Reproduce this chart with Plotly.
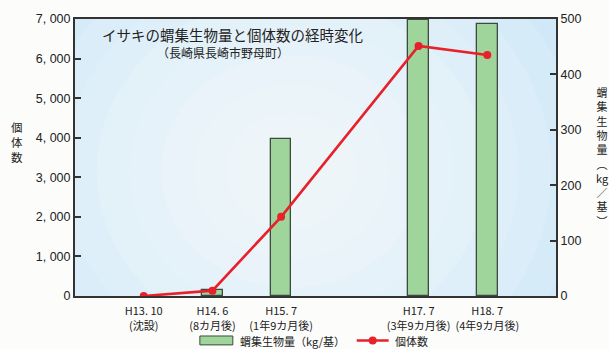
import plotly.graph_objects as go

# ---- data ----
x_pos = [0, 1, 2, 4, 5]
x_labels = ["H13. 10<br>(沈設)", "H14. 6<br>(8カ月後)", "H15. 7<br>(1年9カ月後)",
            "H17. 7<br>(3年9カ月後)", "H18. 7<br>(4年9カ月後)"]
biomass = [None, 10, 284, 498, 491]     # 蝟集生物量 (kg/基) right axis
count = [0, 135, 2000, 6320, 6090]      # 個体数 left axis
left_ticks = [0, 1000, 2000, 3000, 4000, 5000, 6000, 7000]
left_ticktext = ["0", "1, 000", "2, 000", "3, 000", "4, 000", "5, 000", "6, 000", "7, 000"]
right_ticks = [0, 100, 200, 300, 400, 500]
right_title_chars = ["蝟", "集", "生", "物", "量", "︵", "kg", "／", "基", "︶"]
left_title_chars = ["個", "体", "数"]

FONT = "Noto Sans CJK JP"
NUM = "Liberation Sans Narrow, Liberation Sans, Arial"

L, R, T, B = 75, 556.5, 16, 296.5
W, H = R - L, B - T


def px(x):
    return (x - L) / W


def py(y):
    return (B - y) / H


fig = go.Figure()
fig.add_trace(go.Bar(
    x=x_pos, y=biomass, yaxis="y", width=0.3,
    marker=dict(color="#9fd49b", line=dict(color="#3c4a40", width=1.3)),
    showlegend=False, name="蝟集生物量（kg/基）"))
fig.add_trace(go.Scatter(
    x=x_pos, y=count, yaxis="y2", mode="lines+markers",
    line=dict(color="#e8202a", width=2.6),
    marker=dict(color="#e8202a", size=8),
    showlegend=False, name="個体数"))

shapes = []
# radial-ish light gradient in plot area
for i in range(9):
    r = 0.75 - i * 0.075
    shapes.append(dict(type="circle", xref="x domain", yref="y domain",
                       x0=0.45 - r * 0.9, x1=0.45 + r * 0.9, y0=0.45 - r * 1.4, y1=0.45 + r * 1.4,
                       fillcolor="rgba(255,255,255,0.13)", line=dict(width=0), layer="below"))
# custom legend
shapes.append(dict(type="rect", xref="paper", yref="paper",
                   x0=px(200), x1=px(233), y0=py(346), y1=py(337),
                   fillcolor="#9fd49b", line=dict(color="#3c4a40", width=1)))
shapes.append(dict(type="line", xref="paper", yref="paper",
                   x0=px(357), x1=px(389), y0=py(341.5), y1=py(341.5),
                   line=dict(color="#e8202a", width=2.6)))
shapes.append(dict(type="circle", xref="paper", yref="paper",
                   x0=px(369), x1=px(377), y0=py(345.5), y1=py(337.5),
                   fillcolor="#e8202a", line=dict(width=0)))


def ann(text, x, y, size, xanchor="center"):
    return dict(text=text, xref="paper", yref="paper", x=px(x), y=py(y),
                xanchor=xanchor, yanchor="middle", showarrow=False, borderpad=0,
                font=dict(family=FONT, size=size, color="#222"))


annotations = [
    ann("イサキの蝟集生物量と個体数の経時変化", 233, 32, 14.5),
    ann("（長崎県長崎市野母町）", 223, 50, 12),
    ann("蝟集生物量（kg/基）", 239, 342, 11, "left"),
    ann("個体数", 394, 342, 11, "left"),
    ann("<br>".join(left_title_chars), 17, 141, 11.5),
    ann("<br>".join(right_title_chars), 603, 155, 11),
]

fig.update_layout(
    width=609, height=349,
    margin=dict(l=L, r=609 - R, t=T, b=349 - B),
    paper_bgcolor="#fcfcfa",
    plot_bgcolor="#c9e5f6",
    bargap=0,
    shapes=shapes,
    annotations=annotations,
    xaxis=dict(range=[-1, 6], tickvals=x_pos, ticktext=x_labels,
               showgrid=False, zeroline=False, showline=True, linecolor="#333", linewidth=2,
               mirror=True, ticks="", ticklabelstandoff=4,
               tickfont=dict(family=FONT, size=11, color="#222")),
    yaxis=dict(range=[0, 500], tickvals=right_ticks, side="right",
               showgrid=False, zeroline=False, showline=True, linecolor="#333", linewidth=2,
               ticks="inside", ticklen=6, tickwidth=1.5, tickcolor="#333",
               tickfont=dict(family=NUM, size=12.5, color="#222")),
    yaxis2=dict(range=[0, 7000], tickvals=left_ticks, ticktext=left_ticktext,
                overlaying="y", side="left",
                showgrid=False, zeroline=False, showline=True, linecolor="#333", linewidth=2,
                ticks="inside", ticklen=6, tickwidth=1.5, tickcolor="#333",
                tickfont=dict(family=NUM, size=12.5, color="#222")),
)

fig.write_html("out.html")
